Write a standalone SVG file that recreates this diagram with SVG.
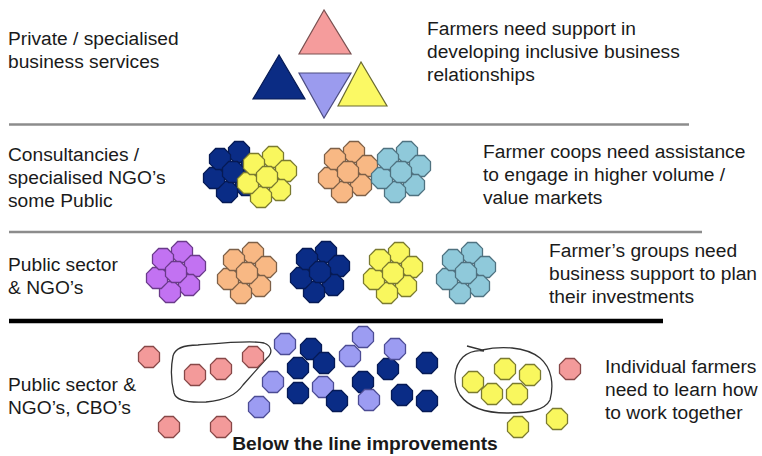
<svg xmlns="http://www.w3.org/2000/svg" xmlns:xlink="http://www.w3.org/1999/xlink" width="762" height="456" viewBox="0 0 762 456">
<style>
.t{font-family:"Liberation Sans",Arial,sans-serif;font-size:19.2px;fill:#1a1a1a}
.b{font-weight:bold;text-anchor:middle}
.sep{stroke:#8c8c8c;stroke-width:2.5}
.thick{stroke:#000;stroke-width:4.5}
.o{stroke-width:1.3}
.db{fill:#0a2c86;stroke:#061a55}
.ye{fill:#f9f75e;stroke:#7a7a30}
.pe{fill:#f8b884;stroke:#7d6048}
.lb{fill:#8fc9da;stroke:#4f7280}
.pu{fill:#c272f2;stroke:#6a3a8a}
.pk{fill:#f39a9a;stroke:#874848}
.li{fill:#9c9cf2;stroke:#4c4c94}
.lasso{fill:none;stroke:#333;stroke-width:1.3}
.tri{stroke-width:1.2}
</style>
<defs>
<polygon id="oct" points="10.5,4.35 4.35,10.5 -4.35,10.5 -10.5,4.35 -10.5,-4.35 -4.35,-10.5 4.35,-10.5 10.5,-4.35"/>
<g id="cl">
<use href="#oct" x="6" y="-20"/><use href="#oct" x="19" y="-6"/><use href="#oct" x="13" y="13"/>
<use href="#oct" x="-6" y="20"/><use href="#oct" x="-19" y="6"/><use href="#oct" x="-13" y="-13"/>
<use href="#oct" x="0" y="0"/>
</g>
</defs>
<rect width="762" height="456" fill="#fff"/>

<g id="connectors">
<line class="sep" x1="9" y1="124.5" x2="689" y2="124.5"/>
<line class="sep" x1="9" y1="232" x2="702" y2="232"/>
<line class="thick" x1="9" y1="321" x2="663" y2="321"/>
</g>

<g id="row1">
<polygon class="tri" points="324,10 299,54 351,54" fill="#f59c9c" stroke="#7a5050"/>
<polygon class="tri" points="279,55 253,99 305,99" fill="#0b2c84" stroke="#061a55"/>
<polygon class="tri" points="299,73 351,73 324,118" fill="#9b9bee" stroke="#4c4c80"/>
<polygon class="tri" points="361,62 338,106 387,106" fill="#fbf964" stroke="#6a6a30"/>
<text class="t" x="8" y="45">Private / specialised</text>
<text class="t" x="8" y="68">business services</text>
<text class="t" x="427" y="35">Farmers need support in</text>
<text class="t" x="427" y="58">developing inclusive business</text>
<text class="t" x="427" y="81">relationships</text>
</g>

<g id="row2">
<use href="#cl" class="o db" x="233" y="172"/>
<use href="#cl" class="o ye" x="267" y="177"/>
<use href="#cl" class="o pe" x="348" y="172"/>
<use href="#cl" class="o lb" x="401" y="172"/>
<text class="t" x="8" y="161">Consultancies /</text>
<text class="t" x="8" y="184">specialised NGO’s</text>
<text class="t" x="8" y="207">some Public</text>
<text class="t" x="483" y="158">Farmer coops need assistance</text>
<text class="t" x="483" y="181">to engage in higher volume /</text>
<text class="t" x="483" y="204">value markets</text>
</g>

<g id="row3">
<use href="#cl" class="o pu" x="176" y="272"/>
<use href="#cl" class="o pe" x="247" y="273"/>
<use href="#cl" class="o db" x="320" y="272"/>
<use href="#cl" class="o ye" x="393" y="273"/>
<use href="#cl" class="o lb" x="466" y="273"/>
<text class="t" x="8" y="271">Public sector</text>
<text class="t" x="8" y="294">&amp; NGO’s</text>
<text class="t" x="549" y="257">Farmer’s groups need</text>
<text class="t" x="549" y="280">business support to plan</text>
<text class="t" x="549" y="303">their investments</text>
</g>

<g id="row4">
<path class="lasso" d="M198,345 C222,343 252,340 264,343 C272,346 273,353 267,358 L243,385 C236,395 226,400 206,402 C188,403 176,400 174,393 C171,381 171,366 173,356 C175,348 184,345 198,345 Z"/>
<path class="lasso" d="M467,346 L482,350 C500,346 525,346 540,358 C552,368 554,385 550,400 C545,410 530,413 507,413 C490,413 470,409 460,395 C452,382 454,366 463,357 C470,351 478,350 484,351"/>
<g class="o pk">
<use href="#oct" x="149" y="357"/><use href="#oct" x="195" y="375"/><use href="#oct" x="221" y="369"/>
<use href="#oct" x="253" y="357"/><use href="#oct" x="169" y="427"/><use href="#oct" x="221" y="427"/>
<use href="#oct" x="570" y="369"/>
</g>
<g class="o li">
<use href="#oct" x="285" y="344"/><use href="#oct" x="273" y="382"/><use href="#oct" x="259" y="407"/>
<use href="#oct" x="363" y="337"/><use href="#oct" x="350" y="356"/><use href="#oct" x="323" y="387"/>
</g>
<g class="o db">
<use href="#oct" x="311" y="349"/><use href="#oct" x="324" y="363"/><use href="#oct" x="298" y="368"/>
<use href="#oct" x="298" y="393"/><use href="#oct" x="337" y="401"/><use href="#oct" x="363" y="382"/>
<use href="#oct" x="388" y="369"/><use href="#oct" x="427" y="363"/><use href="#oct" x="402" y="395"/>
<use href="#oct" x="427" y="401"/>
</g>
<g class="o li">
<use href="#oct" x="395" y="349"/><use href="#oct" x="369" y="400"/>
</g>
<g class="o ye">
<use href="#oct" x="505" y="369"/><use href="#oct" x="530" y="375"/><use href="#oct" x="473" y="382"/>
<use href="#oct" x="492" y="394"/><use href="#oct" x="517" y="394"/><use href="#oct" x="518" y="427"/>
<use href="#oct" x="557" y="419"/>
</g>
<text class="t" x="8" y="391">Public sector &amp;</text>
<text class="t" x="8" y="414">NGO’s, CBO’s</text>
<text class="t" x="605" y="373">Individual farmers</text>
<text class="t" x="605" y="396">need to learn how</text>
<text class="t" x="605" y="419">to work together</text>
<text class="t b" x="365" y="450">Below the line improvements</text>
</g>
</svg>
